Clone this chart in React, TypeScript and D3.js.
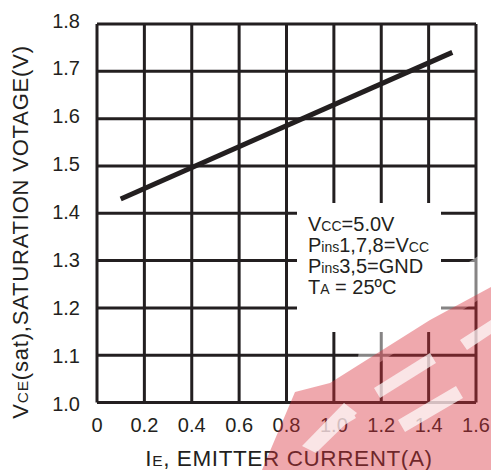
import React from "react";
import * as d3 from "d3";

const xTicks = [0, 0.2, 0.4, 0.6, 0.8, 1.0, 1.2, 1.4, 1.6];
const xTickLabels = ["0", "0.2", "0.4", "0.6", "0.8", "1.0", "1.2", "1.4", "1.6"];
const yTicks = [1.0, 1.1, 1.2, 1.3, 1.4, 1.5, 1.6, 1.7, 1.8];
const yTickLabels = ["1.0", "1.1", "1.2", "1.3", "1.4", "1.5", "1.6", "1.7", "1.8"];
const currentA = [0.1, 1.5];
const vceSat = [1.43, 1.74];

const W = 491, H = 470;
const L = 97, R = 476, T = 24, B = 402.5;
const INK = "#231f20";
const FONT = "'Liberation Sans', Arial, sans-serif";

export default function App() {
  const x = d3.scaleLinear().domain([0, 1.6]).range([L, R]);
  const y = d3.scaleLinear().domain([1.0, 1.8]).range([B, T]);
  const yLab = d3.scaleLinear().domain([1.0, 1.8]).range([B + 1, T - 3.5]);
  const pts = currentA.map((c, i) => [c, vceSat[i]] as [number, number]);
  const line = d3.line<[number, number]>().x(d => x(d[0])).y(d => y(d[1]));

  const box = { x0: 297, x1: 441, y0: 203, y1: 332 };
  const legendLines: [string, string, string][] = [
    ["V", "CC", "=5.0V"],
    ["P", "ins", "1,7,8=V"],
    ["P", "ins", "3,5=GND"],
    ["T", "A", " = 25ºC"],
  ];

  return (
    <svg width={W} height={H} style={{ position: "absolute", left: 0, top: 0 }} fontFamily={FONT}>
      <rect width={W} height={H} fill="#fff" />
      {/* grid */}
      {xTicks.map((t, i) => (
        <line key={"vx" + i} x1={x(t)} x2={x(t)} y1={T} y2={B} stroke={INK} strokeWidth={3} />
      ))}
      {yTicks.map((t, i) => (
        <line key={"hy" + i} x1={L} x2={R} y1={y(t)} y2={y(t)} stroke={INK} strokeWidth={3} />
      ))}
      {/* legend box */}
      <rect x={box.x0} y={box.y0} width={box.x1 - box.x0} height={box.y1 - box.y0} fill="#fff" />
      {/* data line */}
      <path d={line(pts) || ""} fill="none" stroke={INK} strokeWidth={5} />
      {/* y tick labels */}
      {yTicks.map((t, i) => (
        <text key={"yl" + i} x={80} y={yLab(t)} textAnchor="end" dominantBaseline="central" fontSize={20} fill={INK}>
          {yTickLabels[i]}
        </text>
      ))}
      {/* x tick labels */}
      {xTicks.map((t, i) => (
        <text key={"xl" + i} x={x(t)} y={432} textAnchor="middle" fontSize={20} fill={INK}>
          {xTickLabels[i]}
        </text>
      ))}
      {/* x title */}
      <text x={289} y={466} textAnchor="middle" fontSize={22.5} letterSpacing={0.6} fill={INK}>
        I<tspan fontSize={15.5}>E</tspan>, EMITTER CURRENT(A)
      </text>
      {/* y title */}
      <text transform="translate(28,232) rotate(-90)" textAnchor="middle" fontSize={22} letterSpacing={0.8} fill={INK}>
        V<tspan fontSize={15.5}>CE</tspan>(sat),SATURATION VOTAGE(V)
      </text>
      {/* legend text */}
      {legendLines.map((l, i) => (
        <text key={"lg" + i} x={308} y={231 + i * 21} fontSize={20} fill={INK}>
          {l[0]}
          <tspan fontSize={14}>{l[1]}</tspan>
          {l[2]}
          {i === 1 ? <tspan fontSize={14}>CC</tspan> : null}
        </text>
      ))}
      {/* watermark */}
      <g>
        <polygon points="355,378 491,292 491,248 362,330" fill="#fff" opacity={0.45} />
        <polygon points="262,470 295,392 330,383 430,320 491,287 491,470" fill="#d9303c" opacity={0.42} />
        <g fill="#fff" opacity={0.7}>
          <polygon points="374,388 430,353 436,363 380,398" />
          <polygon points="398,420 456,386 463,398 405,432" />
          <polygon points="460,340 491,320 491,334 467,350" />
          <polygon points="302,446 316,453 357,413 344,403" />
          <polygon points="330,420 350,408 356,418 336,430" />
        </g>
      </g>
    </svg>
  );
}
